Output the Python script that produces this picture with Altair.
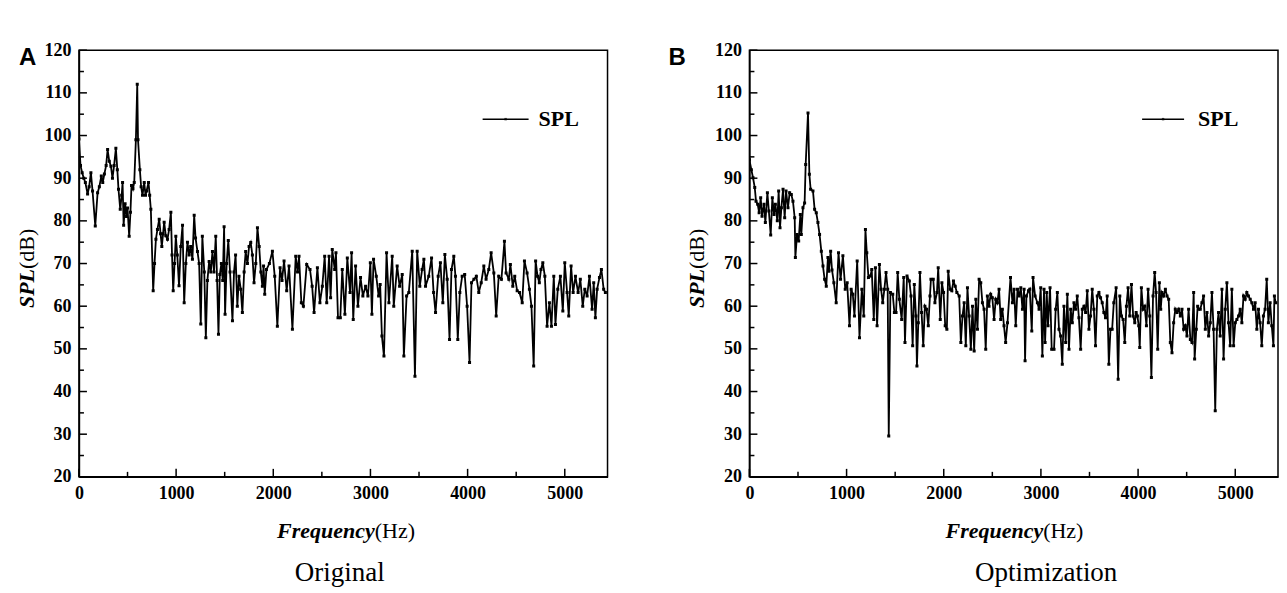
import altair as alt
import pandas as pd

# ---------------- data ----------------
freq_a = [0, 16, 33, 50, 66, 89, 105, 123, 140, 168, 192, 210, 230, 245, 262, 280, 295, 312, 329, 345,
          362, 380, 395, 407, 425, 440, 449, 460, 475, 490, 500, 517, 530, 541, 556, 569, 586, 600, 608, 627,
          640, 654, 672, 685, 696, 716, 728, 740, 764, 778, 792, 808, 826, 840, 853, 866, 877, 894, 911, 928,
          946, 958, 970, 984, 997, 1012, 1030, 1048, 1066, 1083, 1100, 1117, 1134, 1150, 1168, 1186, 1200, 1220, 1237, 1254,
          1270, 1290, 1306, 1322, 1340, 1357, 1374, 1390, 1408, 1422, 1436, 1450, 1466, 1480, 1494, 1504, 1520, 1537, 1555, 1580,
          1596, 1612, 1630, 1647, 1665, 1682, 1700, 1716, 1734, 1751, 1768, 1785, 1802, 1820, 1837, 1855, 1872, 1888, 1900, 1912,
          1930, 1960, 1991, 2015, 2042, 2070, 2090, 2111, 2138, 2162, 2197, 2231, 2250, 2265, 2289, 2310, 2344, 2378, 2400, 2420,
          2454, 2480, 2505, 2529, 2550, 2574, 2590, 2607, 2632, 2645, 2666, 2690, 2710, 2737, 2762, 2790, 2806, 2823, 2847, 2871,
          2898, 2922, 2950, 2974, 2999, 3015, 3032, 3060, 3084, 3100, 3118, 3139, 3166, 3190, 3224, 3240, 3275, 3300, 3327, 3344,
          3372, 3395, 3430, 3458, 3481, 3508, 3532, 3550, 3567, 3600, 3629, 3650, 3670, 3697, 3720, 3745, 3766, 3790, 3814, 3834,
          3858, 3875, 3899, 3920, 3944, 3970, 3995, 4020, 4040, 4065, 4090, 4115, 4140, 4167, 4190, 4218, 4242, 4270, 4294, 4320,
          4348, 4379, 4396, 4424, 4440, 4465, 4485, 4510, 4534, 4562, 4585, 4612, 4636, 4657, 4680, 4700, 4720, 4738, 4755, 4774,
          4795, 4818, 4842, 4863, 4887, 4904, 4928, 4955, 4980, 5000, 5024, 5041, 5065, 5086, 5110, 5137, 5160, 5185, 5206, 5230,
          5254, 5281, 5298, 5315, 5333, 5357, 5377, 5400, 5418]
spl_a = [99.2, 93.0, 91.3, 90.0, 89.0, 86.3, 88.0, 91.3, 87.0, 78.8, 86.6, 88.0, 90.5, 89.0, 91.0, 93.0, 96.7, 94.0, 92.8, 90.0,
         93.0, 97.0, 92.0, 87.4, 82.7, 86.0, 89.0, 79.0, 84.0, 81.0, 83.0, 76.4, 82.0, 88.3, 87.5, 89.0, 99.0, 112.0, 99.0, 92.0,
         88.0, 86.0, 89.0, 86.0, 87.0, 89.0, 86.0, 82.7, 63.6, 70.0, 75.7, 78.0, 80.4, 77.0, 74.0, 77.0, 79.7, 76.5, 75.7, 78.0,
         82.0, 72.0, 63.6, 70.0, 76.4, 72.0, 64.8, 74.0, 79.0, 60.8, 70.0, 75.0, 72.0, 74.0, 71.0, 81.3, 76.0, 72.8, 70.0, 55.8,
         76.4, 68.0, 52.6, 66.0, 70.5, 68.0, 72.8, 68.0, 76.4, 66.0, 53.4, 67.4, 70.0, 66.0, 78.6, 58.1, 70.0, 75.4, 68.0, 56.6,
         68.0, 72.0, 60.0, 67.0, 64.0, 58.5, 68.0, 72.8, 70.0, 74.0, 74.9, 72.0, 65.5, 70.0, 78.4, 74.0, 68.0, 64.7, 69.4, 62.8,
         68.6, 70.0, 72.9, 67.0, 55.3, 69.0, 66.0, 70.6, 63.6, 69.4, 54.6, 71.7, 68.0, 71.7, 60.8, 60.0, 69.8, 68.6, 64.7, 58.5,
         69.0, 60.8, 64.7, 71.7, 60.8, 71.7, 62.0, 73.3, 68.6, 72.5, 57.3, 57.3, 68.6, 58.1, 71.3, 63.2, 72.5, 56.9, 69.4, 60.0,
         66.7, 62.4, 64.7, 62.4, 70.2, 58.1, 71.0, 67.0, 62.4, 65.1, 53.0, 48.3, 72.5, 60.8, 71.7, 60.0, 69.4, 64.7, 67.4, 48.3,
         62.4, 63.2, 72.9, 43.6, 72.9, 64.7, 68.6, 71.0, 64.7, 67.0, 71.3, 63.2, 58.5, 67.0, 70.2, 60.8, 72.1, 66.3, 52.2, 68.6,
         71.7, 67.0, 52.2, 63.2, 67.0, 67.4, 60.0, 46.8, 65.5, 66.3, 67.0, 63.2, 65.5, 69.4, 66.3, 68.6, 72.5, 67.8, 57.7, 67.0,
         66.3, 75.2, 67.8, 66.3, 69.8, 64.7, 67.0, 63.6, 63.2, 60.8, 70.6, 67.8, 64.0, 60.0, 46.0, 70.6, 67.0, 65.5, 68.6, 70.2,
         67.0, 55.3, 60.8, 55.3, 67.0, 55.7, 64.0, 67.0, 58.9, 70.2, 63.2, 57.7, 69.4, 63.2, 67.0, 63.2, 66.3, 60.0, 64.0, 62.4,
         67.0, 59.3, 65.5, 57.3, 64.0, 66.7, 68.6, 64.0, 63.2]

freq_b = [0, 20, 37, 55, 68, 85, 100, 116, 130, 150, 164, 185, 200, 219, 236, 253, 267, 287, 301, 315,
          329, 346, 363, 377, 397, 414, 431, 448, 466, 473, 490, 507, 524, 534, 551, 568, 579, 603, 617, 630,
          654, 671, 688, 705, 722, 740, 757, 774, 791, 808, 818, 836, 850, 869, 893, 917, 938, 962, 986, 1006,
          1030, 1047, 1064, 1081, 1109, 1133, 1157, 1177, 1194, 1208, 1225, 1246, 1259, 1280, 1297, 1314, 1338, 1355, 1372, 1389,
          1406, 1423, 1434, 1451, 1475, 1492, 1509, 1526, 1543, 1567, 1588, 1601, 1622, 1646, 1663, 1680, 1697, 1714, 1724, 1738,
          1755, 1772, 1789, 1806, 1823, 1841, 1858, 1868, 1892, 1909, 1930, 1943, 1964, 1981, 1998, 2015, 2032, 2046, 2066, 2083,
          2100, 2118, 2135, 2159, 2176, 2193, 2210, 2227, 2244, 2261, 2279, 2296, 2313, 2330, 2347, 2364, 2381, 2398, 2415, 2432,
          2449, 2466, 2483, 2500, 2518, 2535, 2552, 2569, 2586, 2603, 2620, 2637, 2656, 2687, 2707, 2724, 2741, 2759, 2776, 2793,
          2810, 2827, 2837, 2851, 2872, 2885, 2906, 2919, 2940, 2964, 2981, 2998, 3015, 3032, 3043, 3060, 3073, 3094, 3111, 3135,
          3152, 3169, 3186, 3203, 3220, 3237, 3255, 3272, 3289, 3306, 3323, 3340, 3357, 3374, 3391, 3409, 3426, 3443, 3460, 3477,
          3494, 3511, 3528, 3545, 3562, 3580, 3597, 3614, 3631, 3648, 3665, 3682, 3699, 3716, 3733, 3750, 3774, 3795, 3812, 3829,
          3846, 3863, 3880, 3897, 3914, 3932, 3949, 3966, 3980, 3993, 4007, 4017, 4034, 4051, 4068, 4086, 4103, 4120, 4137, 4154,
          4171, 4185, 4202, 4219, 4233, 4246, 4263, 4281, 4298, 4315, 4332, 4349, 4366, 4383, 4400, 4418, 4435, 4452, 4469, 4486,
          4503, 4520, 4538, 4555, 4572, 4582, 4599, 4613, 4623, 4640, 4657, 4674, 4692, 4709, 4726, 4743, 4760, 4777, 4794, 4811,
          4828, 4845, 4863, 4880, 4897, 4914, 4931, 4948, 4965, 4983, 5000, 5017, 5034, 5051, 5068, 5085, 5102, 5119, 5136, 5154,
          5171, 5188, 5205, 5222, 5239, 5256, 5273, 5290, 5307, 5324, 5341, 5359, 5376, 5393, 5403, 5416]
spl_b = [94.3, 92.0, 90.1, 87.8, 84.6, 83.9, 81.9, 85.4, 81.1, 83.9, 79.6, 86.6, 82.3, 76.7, 85.4, 81.5, 83.9, 80.0, 87.0, 78.4,
         83.1, 87.4, 80.7, 87.0, 83.1, 86.6, 86.2, 84.6, 80.7, 71.4, 76.8, 75.3, 81.5, 76.8, 83.1, 84.2, 93.2, 105.3, 90.9, 87.4,
         87.0, 82.7, 81.9, 79.6, 76.8, 72.9, 69.4, 66.3, 64.7, 71.4, 68.2, 72.9, 68.5, 65.5, 60.8, 72.5, 66.3, 71.8, 64.0, 65.5,
         55.4, 64.0, 62.8, 57.7, 70.6, 52.6, 64.0, 57.7, 78.0, 72.5, 66.7, 67.1, 68.6, 56.9, 69.0, 55.4, 69.8, 64.0, 60.8, 64.0,
         67.9, 64.0, 29.6, 63.2, 62.8, 58.5, 58.5, 67.9, 61.6, 56.9, 66.7, 51.5, 67.1, 65.9, 62.4, 50.7, 65.1, 57.7, 46.0, 56.1,
         67.9, 58.5, 50.7, 60.0, 59.3, 55.4, 62.4, 66.3, 66.3, 60.8, 63.2, 69.0, 56.9, 65.5, 63.2, 55.4, 54.6, 68.2, 64.0, 63.6,
         65.9, 64.7, 63.2, 62.4, 51.5, 57.7, 60.8, 50.7, 64.3, 57.7, 49.9, 60.0, 49.5, 61.6, 54.6, 66.3, 65.5, 60.8, 59.3, 49.9,
         62.4, 60.0, 62.8, 62.0, 56.9, 61.6, 60.8, 64.0, 56.9, 59.3, 55.4, 51.5, 56.1, 66.7, 60.8, 64.0, 55.4, 64.0, 62.4, 64.3,
         59.3, 64.0, 47.2, 62.4, 63.6, 64.0, 54.2, 66.7, 62.4, 60.8, 59.3, 64.3, 48.3, 64.0, 51.5, 63.2, 55.4, 64.3, 49.9, 49.9,
         59.3, 63.2, 54.6, 53.0, 46.4, 60.0, 51.5, 62.8, 49.9, 59.3, 56.1, 60.8, 59.3, 62.4, 57.3, 49.9, 59.3, 60.0, 58.5, 63.6,
         54.6, 57.7, 64.0, 59.3, 50.7, 62.4, 63.2, 62.0, 60.8, 58.5, 57.3, 62.4, 46.4, 54.6, 54.6, 60.8, 64.3, 42.9, 62.4, 57.7,
         56.9, 51.5, 60.0, 64.3, 57.7, 65.1, 57.7, 56.1, 58.5, 57.7, 55.4, 50.3, 64.3, 59.3, 60.0, 55.4, 64.0, 57.7, 43.3, 62.4,
         67.9, 63.2, 49.9, 65.5, 59.3, 63.2, 62.4, 64.0, 62.4, 61.6, 51.5, 49.1, 56.1, 59.3, 58.5, 59.3, 57.7, 59.3, 54.6, 55.4,
         53.0, 59.3, 52.2, 51.5, 63.2, 47.6, 54.6, 60.0, 59.3, 59.3, 60.8, 62.4, 54.6, 58.5, 53.0, 56.1, 63.2, 54.6, 35.5, 54.6,
         58.5, 53.0, 64.0, 47.6, 59.3, 65.5, 56.1, 50.7, 64.0, 50.7, 56.1, 56.9, 57.7, 59.3, 56.1, 62.4, 61.6, 63.2, 62.4, 61.6,
         60.8, 59.3, 60.8, 54.6, 59.3, 56.1, 50.7, 57.7, 59.3, 66.3, 56.1, 60.8, 55.4, 50.7, 62.4, 60.8]

x_major = [0, 1000, 2000, 3000, 4000, 5000]
x_minor = [500, 1500, 2500, 3500, 4500]
y_major = [20, 30, 40, 50, 60, 70, 80, 90, 100, 110, 120]
y_minor = [25, 35, 45, 55, 65, 75, 85, 95, 105, 115]

panel_letters = ["A", "B"]
subtitles = ["Original", "Optimization"]
legend_label = "SPL"
y_title = ["SPL", "(dB)"]
x_title = ["Frequency", "(Hz)"]

# ---------------- styling ----------------
W, H = 529, 427
SERIF = "Liberation Serif"
SANS = "Liberation Sans"


def txt(s, x, y, **kw):
    return alt.Chart(pd.DataFrame({"t": [s]})).mark_text(color="black", **kw).encode(
        text="t:N", x=alt.value(x), y=alt.value(y))


def panel(freq, spl, letter, letter_x, subtitle, sub_x, x_junction, leg_x0, leg_x1, leg_tx):
    df = pd.DataFrame({"f": freq, "spl": spl})
    xs = alt.Scale(domain=[0, 5440], nice=False, zero=False)
    ys = alt.Scale(domain=[20, 120], nice=False, zero=False)
    x_axis = alt.Axis(values=x_major, format="d", title=None, ticks=False, tickSize=0, grid=False,
                      labelFont=SERIF, labelFontWeight="bold", labelFontSize=18, labelColor="black",
                      labelPadding=8, domainColor="black", domainWidth=1.5, labelFlush=False,
                      labelOverlap=False)
    y_axis = alt.Axis(values=y_major, title=None, ticks=False, tickSize=0, grid=False,
                      labelFont=SERIF, labelFontWeight="bold", labelFontSize=18, labelColor="black",
                      labelPadding=8, domainColor="black", domainWidth=1.5, labelOverlap=False)

    line = alt.Chart(df).mark_line(
        color="black", strokeWidth=1.8, clip=True,
        point=alt.OverlayMarkDef(shape="square", size=9, filled=True, color="black"),
    ).encode(x=alt.X("f:Q", scale=xs, axis=x_axis), y=alt.Y("spl:Q", scale=ys, axis=y_axis))

    xt_major = alt.Chart(pd.DataFrame({"f": x_major})).mark_rule(color="black", strokeWidth=1.5).encode(
        x=alt.X("f:Q", scale=xs, axis=x_axis), y=alt.value(H), y2=alt.value(H - 8))
    xt_minor = alt.Chart(pd.DataFrame({"f": x_minor})).mark_rule(color="black", strokeWidth=1.5).encode(
        x=alt.X("f:Q", scale=xs, axis=x_axis), y=alt.value(H), y2=alt.value(H - 5))
    yt_major = alt.Chart(pd.DataFrame({"spl": y_major})).mark_rule(color="black", strokeWidth=1.5).encode(
        y=alt.Y("spl:Q", scale=ys, axis=y_axis), x=alt.value(0), x2=alt.value(8))
    yt_minor = alt.Chart(pd.DataFrame({"spl": y_minor})).mark_rule(color="black", strokeWidth=1.5).encode(
        y=alt.Y("spl:Q", scale=ys, axis=y_axis), x=alt.value(0), x2=alt.value(5))

    leg_df = pd.DataFrame({"t": [legend_label]})
    leg_line = alt.Chart(leg_df).mark_rule(color="black", strokeWidth=1.5).encode(
        x=alt.value(leg_x0), x2=alt.value(leg_x1), y=alt.value(69))
    leg_pt = alt.Chart(leg_df).mark_point(shape="square", size=6, filled=True, color="black").encode(
        x=alt.value((leg_x0 + leg_x1) / 2), y=alt.value(69))
    leg_txt = txt(legend_label, leg_tx, 69, font=SERIF, fontWeight="bold", fontSize=22,
                  align="left", baseline="middle")

    letter_txt = txt(letter, letter_x, 15, font=SANS, fontWeight="bold", fontSize=24,
                     align="left", baseline="alphabetic")
    yt1 = txt(y_title[0], -52, 219, font=SERIF, fontWeight="bold", fontStyle="italic", fontSize=22,
              angle=270, align="right", baseline="middle")
    yt2 = txt(y_title[1], -52, 219, font=SERIF, fontSize=22, angle=270, align="left", baseline="middle")
    xt1 = txt(x_title[0], x_junction, 481, font=SERIF, fontWeight="bold", fontStyle="italic", fontSize=22,
              align="right", baseline="middle")
    xt2 = txt(x_title[1], x_junction, 481, font=SERIF, fontSize=22, align="left", baseline="middle")
    sub = txt(subtitle, sub_x, 531, font=SERIF, fontSize=27, align="center", baseline="alphabetic")

    return alt.layer(line, xt_major, xt_minor, yt_major, yt_minor, leg_line, leg_pt, leg_txt,
                     letter_txt, yt1, yt2, xt1, xt2, sub).properties(width=W, height=H)


chart_a = panel(freq_a, spl_a, panel_letters[0], -60, subtitles[0], 261, 296, 404, 450, 460)
chart_b = panel(freq_b, spl_b, panel_letters[1], -81, subtitles[1], 297, 294, 393, 435, 449)

chart = alt.hconcat(chart_a, chart_b, spacing=59).configure_view(
    stroke="black", strokeWidth=1.5
).properties(padding={"left": 7, "top": 32, "right": 0, "bottom": 0}, background="white")

chart.save("out.html", embed_options={"renderer": "svg", "actions": False})
